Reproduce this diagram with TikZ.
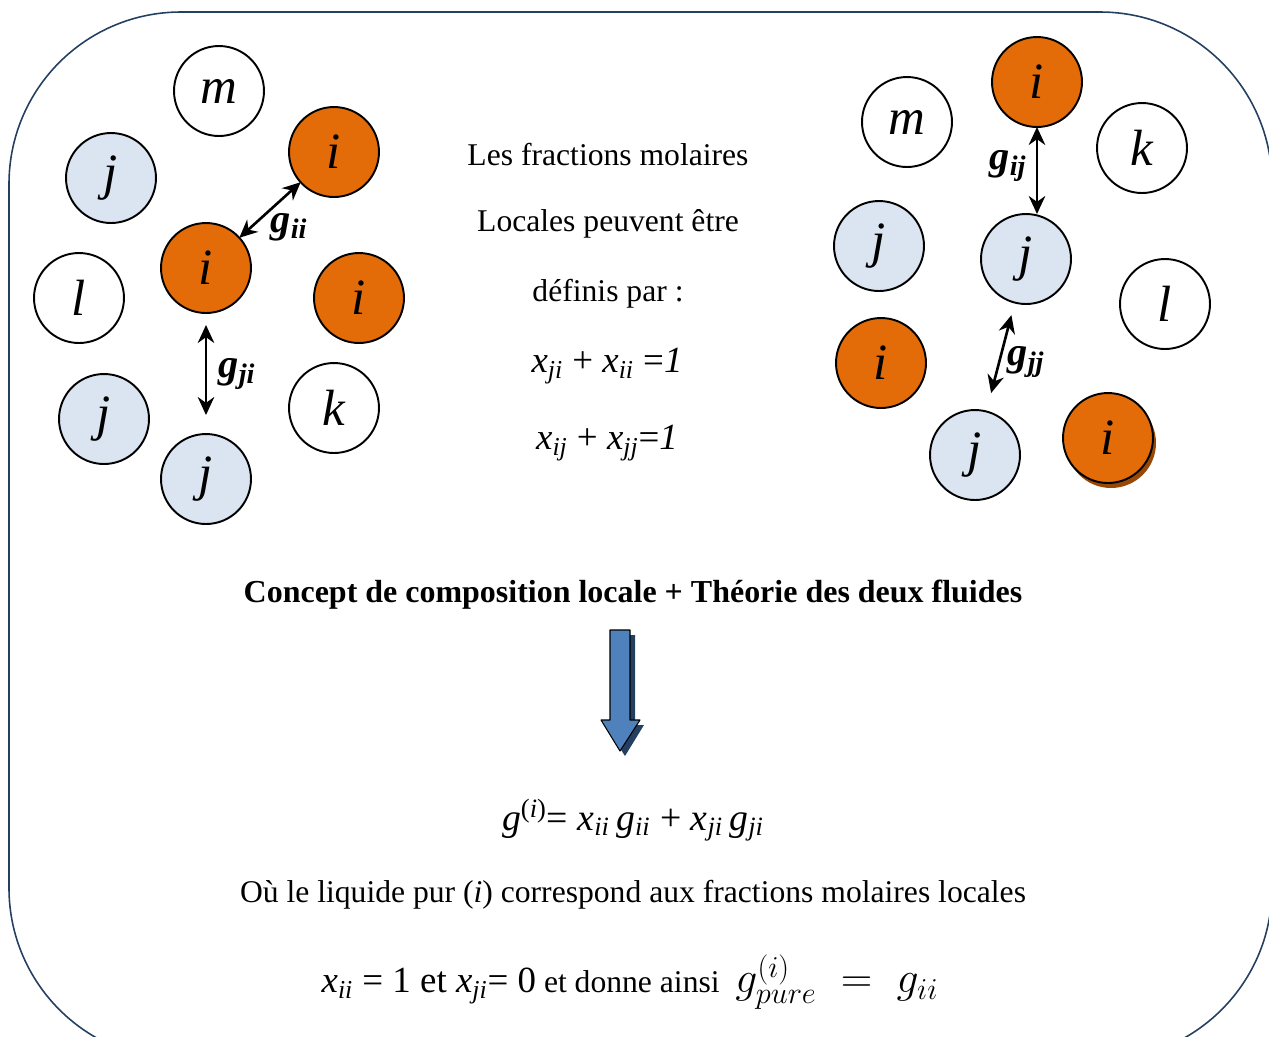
\documentclass[tikz,border=0pt]{standalone}
\usepackage{fontspec}
\setmainfont{Liberation Serif}
\usepackage{tikz}
\usetikzlibrary{arrows.meta,positioning,calc}
\definecolor{frameblue}{HTML}{243F60}
\definecolor{iorange}{HTML}{E36C09}
\definecolor{ishade}{HTML}{984806}
\definecolor{jblue}{HTML}{DBE5F1}
\definecolor{arrowblue}{HTML}{4F81BD}
\definecolor{arrowshade}{HTML}{243F60}
\tikzset{
    every picture/.style={line cap=round,line join=round},
    mol/.style={draw=black,circle,line width=1.1pt,minimum size=1.8cm,
      inner sep=0pt,outer sep=0pt,font=\fontsize{29}{32}\selectfont\itshape},
    imol/.style={mol,fill=iorange},
    jmol/.style={mol,fill=jblue},
    omol/.style={mol,fill=white},
    bondarrow/.style={{Stealth[length=3.6mm,width=3.3mm]}-{Stealth[length=3.6mm,width=3.3mm]},
      line width=1.5pt},
    glabel/.style={font=\fontsize{23}{25}\selectfont\bfseries\itshape,inner sep=1pt},
    bodytext/.style={font=\fontsize{18}{21}\selectfont,inner sep=0pt,align=center},
    eqtext/.style={font=\fontsize{21.5}{25}\selectfont,inner sep=0pt}
}
\newcommand{\xsub}[1]{\textit{x}\textsubscript{\textit{#1}}}
\newcommand{\gsub}[1]{\textit{g}\textsubscript{\textit{#1}}}

\begin{document}
\begin{tikzpicture}[x=0.02cm,y=-0.02cm]
  \useasboundingbox (0,0) rectangle (1269,1036);
  \clip (0,0) rectangle (1269,1036);
  \draw[frameblue,line width=0.9pt,rounded corners=3.44cm] (9,12) rectangle (1272,1060);

  % left group
  \node[omol] (lm) at (219,91) {m};
  \node[imol] (li1) at (334,152) {i};
  \node[jmol] (lj1) at (111,178) {j};
  \node[imol] (li2) at (206,268) {i};
  \node[omol] (ll) at (79,298) {l};
  \node[imol] (li3) at (359,298) {i};
  \node[jmol] (lj2) at (104,419) {j};
  \node[omol] (lk) at (334,408) {k};
  \node[jmol] (lj3) at (206,479) {j};
  \draw[bondarrow] (li2) -- (li1);
  \node[glabel] (gii) at (289,227) {g\textsubscript{ii}};
  \draw[bondarrow,shorten <=0.24cm,shorten >=0.38cm] (li2) -- (lj3);
  \node[glabel] (gji) at (237,374) {g\textsubscript{ji}};

  % right group
  \node[omol] (rm) at (907,122) {m};
  \node[imol] (ri1) at (1037,82) {i};
  \node[omol] (rk) at (1142,148) {k};
  \node[jmol] (rj1) at (879,246) {j};
  \node[jmol] (rj2) at (1026,259) {j};
  \node[omol] (rl) at (1165,304) {l};
  \node[imol] (ri2) at (881,363) {i};
  \node[jmol] (rj3) at (975,455) {j};
  \node[mol,draw=none,fill=ishade] (ri3shade) at (1111,443) {};
  \node[imol] (ri3) at (1108,438) {i};
  \draw[bondarrow] (ri1.south) -- (ri1.south |- rj2.north);
  \node[glabel] (gij) at (1008,166) {g\textsubscript{ij}};
  \draw[bondarrow,shorten <=0.26cm,shorten >=0.38cm] (rj2) -- (rj3);
  \node[glabel] (gjj) at (1026,362) {g\textsubscript{jj}};

  % centre text
  \node[bodytext] (fracA) at (608,155) {Les fractions molaires};
  \node[bodytext] (fracB) at (608,224) {Locales peuvent être};
  \node[bodytext] (fracC) at (608,294) {définis par :};
  \node[eqtext,font=\fontsize{21}{24}\selectfont] (sumA) at (607,366) {\xsub{ji} + \xsub{ii} =\textit{1}};
  \node[eqtext,font=\fontsize{21}{24}\selectfont] (sumB) at (607,443) {\xsub{ij} + \xsub{jj}=\textit{1}};

  \node[bodytext,font=\fontsize{18.2}{21}\selectfont\bfseries] (title) at (633,595)
    {Concept de composition locale + Théorie des deux fluides};

  % block arrow
  \fill[arrowshade] (614,635) -- (635,635) -- (635,725) -- (644,725) -- (625,756)
    -- (605,725) -- (614,725) -- cycle;
  \draw[fill=arrowblue,line width=0.6pt] (610,630) -- (630,630) -- (630,720) -- (640,720)
    -- (620,751) -- (601,720) -- (610,720) -- cycle;

  \node[eqtext] (gmix) at (633,820)
    {\textit{g}\textsuperscript{(\textit{i})}= \xsub{ii}\,\gsub{ii} + \xsub{ji}\,\gsub{ji}};
  \node[bodytext] (pure) at (633,895)
    {Où le liquide pur (\textit{i}) correspond aux fractions molaires locales};
  \node[bodytext] (limit) at (630,982)
    {{\fontsize{21}{24}\selectfont\xsub{ii} = 1 et \xsub{ji}= 0} et donne ainsi\enspace
     {\fontsize{23.5}{27}\selectfont$g^{(i)}_{pure}\;=\;g_{ii}$}};
\end{tikzpicture}
\end{document}
